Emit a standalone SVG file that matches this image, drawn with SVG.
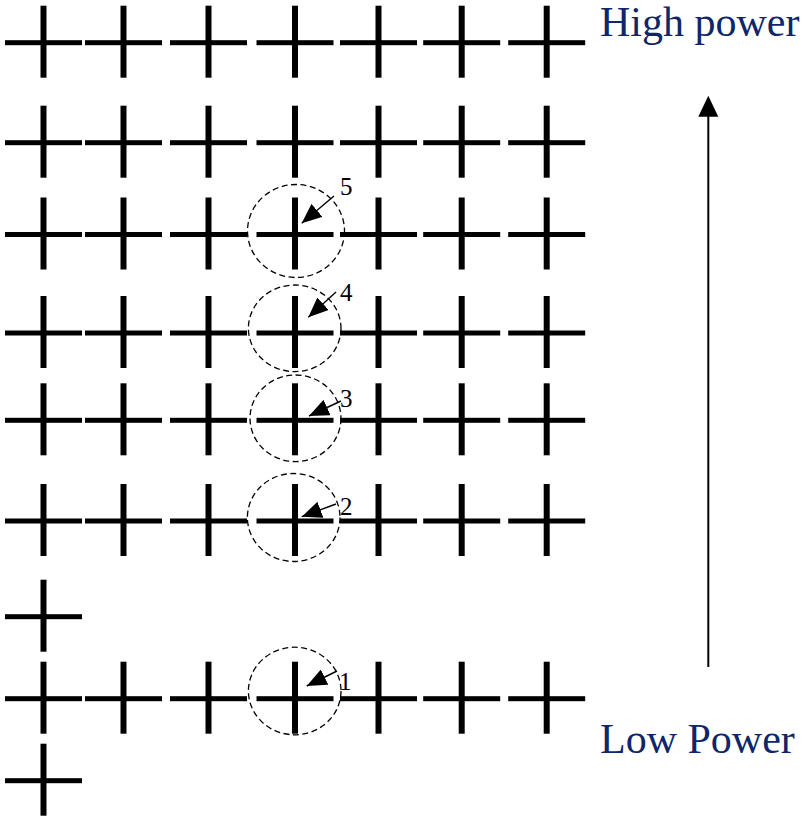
<svg xmlns="http://www.w3.org/2000/svg" xmlns:xlink="http://www.w3.org/1999/xlink" width="804" height="817" viewBox="0 0 804 817">
<style>
.ring{fill:none;stroke:#000;stroke-width:1.3;stroke-dasharray:6 3.5}
.ptr{stroke:#000;stroke-width:1.4;fill:none;marker-end:url(#ah)}
.num{font-size:25px;fill:#000}
.lbl{font-size:42px;fill:#0f2667}
</style>
<defs>
<g id="cross"><rect x="-38.5" y="-2.5" width="77" height="5" fill="#000"/><rect x="-3" y="-37" width="6" height="72" fill="#000"/></g>
<marker id="ah" viewBox="0 0 20 17" refX="20" refY="8.5" markerWidth="20" markerHeight="17" markerUnits="userSpaceOnUse" orient="auto"><path d="M0,0 L20,8.5 L0,17 z" fill="#000"/></marker>
</defs>
<g id="grid">
<g id="row1"><use xlink:href="#cross" x="43.5" y="42.7"/><use xlink:href="#cross" x="123.5" y="42.7"/><use xlink:href="#cross" x="208.5" y="42.7"/><use xlink:href="#cross" x="295" y="42.7"/><use xlink:href="#cross" x="378.5" y="42.7"/><use xlink:href="#cross" x="461.7" y="42.7"/><use xlink:href="#cross" x="546.7" y="42.7"/></g>
<g id="row2"><use xlink:href="#cross" x="43.5" y="142.7"/><use xlink:href="#cross" x="123.5" y="142.7"/><use xlink:href="#cross" x="208.5" y="142.7"/><use xlink:href="#cross" x="295" y="142.7"/><use xlink:href="#cross" x="378.5" y="142.7"/><use xlink:href="#cross" x="461.7" y="142.7"/><use xlink:href="#cross" x="546.7" y="142.7"/></g>
<g id="row3"><use xlink:href="#cross" x="43.5" y="234.5"/><use xlink:href="#cross" x="123.5" y="234.5"/><use xlink:href="#cross" x="208.5" y="234.5"/><use xlink:href="#cross" x="295" y="234.5"/><use xlink:href="#cross" x="378.5" y="234.5"/><use xlink:href="#cross" x="461.7" y="234.5"/><use xlink:href="#cross" x="546.7" y="234.5"/></g>
<g id="row4"><use xlink:href="#cross" x="43.5" y="333"/><use xlink:href="#cross" x="123.5" y="333"/><use xlink:href="#cross" x="208.5" y="333"/><use xlink:href="#cross" x="295" y="333"/><use xlink:href="#cross" x="378.5" y="333"/><use xlink:href="#cross" x="461.7" y="333"/><use xlink:href="#cross" x="546.7" y="333"/></g>
<g id="row5"><use xlink:href="#cross" x="43.5" y="420.3"/><use xlink:href="#cross" x="123.5" y="420.3"/><use xlink:href="#cross" x="208.5" y="420.3"/><use xlink:href="#cross" x="295" y="420.3"/><use xlink:href="#cross" x="378.5" y="420.3"/><use xlink:href="#cross" x="461.7" y="420.3"/><use xlink:href="#cross" x="546.7" y="420.3"/></g>
<g id="row6"><use xlink:href="#cross" x="43.5" y="521"/><use xlink:href="#cross" x="123.5" y="521"/><use xlink:href="#cross" x="208.5" y="521"/><use xlink:href="#cross" x="295" y="521"/><use xlink:href="#cross" x="378.5" y="521"/><use xlink:href="#cross" x="461.7" y="521"/><use xlink:href="#cross" x="546.7" y="521"/></g>
<g id="row7"><use xlink:href="#cross" x="43.5" y="616.7"/></g>
<g id="row8"><use xlink:href="#cross" x="43.5" y="698.7"/><use xlink:href="#cross" x="123.5" y="698.7"/><use xlink:href="#cross" x="208.5" y="698.7"/><use xlink:href="#cross" x="295" y="698.7"/><use xlink:href="#cross" x="378.5" y="698.7"/><use xlink:href="#cross" x="461.7" y="698.7"/><use xlink:href="#cross" x="546.7" y="698.7"/></g>
<g id="row9"><use xlink:href="#cross" x="43.5" y="780.7"/></g>
</g>
<g font-family="Liberation Serif, Times New Roman, DejaVu Serif, serif">
<g id="mark5"><ellipse class="ring" cx="296" cy="231" rx="48.5" ry="46.5"/><text class="num" x="340" y="195">5</text></g>
<g id="mark4"><ellipse class="ring" cx="294.7" cy="328.3" rx="46.3" ry="43.3"/><text class="num" x="340" y="300.5">4</text></g>
<g id="mark3"><ellipse class="ring" cx="295.5" cy="418.3" rx="45.5" ry="43.3"/><text class="num" x="340" y="406.5">3</text></g>
<g id="mark2"><ellipse class="ring" cx="293.7" cy="517.5" rx="46.3" ry="44"/><text class="num" x="340" y="515">2</text></g>
<g id="mark1"><ellipse class="ring" cx="294.7" cy="691" rx="46.3" ry="43.8"/><text class="num" x="339" y="690">1</text></g>
<g id="labels"><text class="lbl" x="600" y="36">High power</text><text class="lbl" x="600" y="753">Low Power</text></g>
</g>
<g id="connectors">
<line class="ptr" x1="334" y1="196" x2="301.7" y2="223.3"/>
<line class="ptr" x1="336" y1="292" x2="308.3" y2="317.3"/>
<line class="ptr" x1="341" y1="401" x2="309" y2="416"/>
<line class="ptr" x1="336" y1="504" x2="301.7" y2="516.7"/>
<line class="ptr" x1="337" y1="671" x2="306.7" y2="686"/>
<line x1="708.3" y1="667" x2="708.3" y2="100" stroke="#000" stroke-width="2"/>
<path d="M708.3,95.7 L718.3,116.7 L698.3,116.7 z" fill="#000"/>
</g>
</svg>
